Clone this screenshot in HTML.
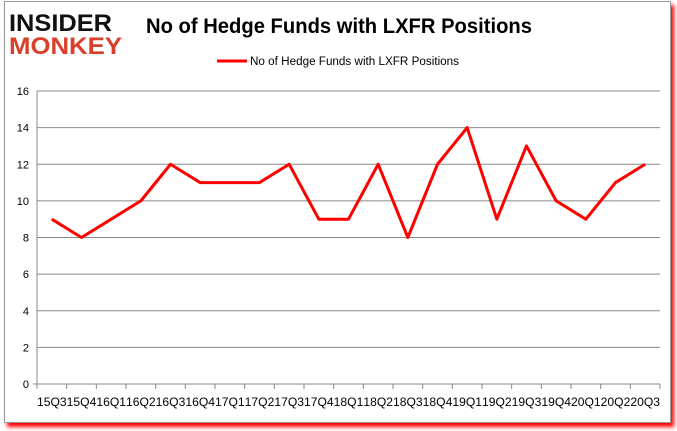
<!DOCTYPE html>
<html><head><meta charset="utf-8"><style>
body{margin:0;width:677px;height:431px;background:#fff;overflow:hidden;font-family:"Liberation Sans",sans-serif}
#frame{position:absolute;left:4px;top:1px;width:665px;height:420px;border:1px solid #999;box-shadow:3px 4px 4px #f00;background:#fff}
</style></head><body>
<div id="frame"></div>
<svg width="677" height="431" style="position:absolute;left:0;top:0">
<g font-family="Liberation Sans" font-weight="bold">
<text x="9" y="31" font-size="24" fill="#111" textLength="103" lengthAdjust="spacingAndGlyphs">INSIDER</text>
<text x="9" y="54" font-size="24" fill="#d9402b" textLength="113" lengthAdjust="spacingAndGlyphs">MONKEY</text>
</g>
<text x="146" y="33" font-size="21" font-weight="bold" fill="#000" textLength="386" lengthAdjust="spacingAndGlyphs">No of Hedge Funds with LXFR Positions</text>
<g>
<line x1="217" y1="61" x2="247" y2="61" stroke="#f00" stroke-width="3"/>
<text x="250" y="65" font-size="11.5" fill="#000" textLength="209" lengthAdjust="spacingAndGlyphs">No of Hedge Funds with LXFR Positions</text>
</g>
<g id="grid"></g><g id="axes"></g><g id="series"></g>
</svg>
<script>
const categories=["15Q3","15Q4","16Q1","16Q2","16Q3","16Q4","17Q1","17Q2","17Q3","17Q4","18Q1","18Q2","18Q3","18Q4","19Q1","19Q2","19Q3","19Q4","20Q1","20Q2","20Q3"];
const values=[9,8,9,10,12,11,11,11,12,9,9,12,8,12,14,9,13,10,9,11,12];
const yTicks=[0,2,4,6,8,10,12,14,16];
const NS="http://www.w3.org/2000/svg";
const L=37,R=660,T=91,B=384,yMax=16;
const bw=(R-L)/categories.length;
const x=i=>L+bw*(i+0.5);
const y=v=>B-(v/yMax)*(B-T);
function mk(tag,attrs,parent){const e=document.createElementNS(NS,tag);for(const k in attrs)e.setAttribute(k,attrs[k]);parent.appendChild(e);return e;}
const grid=document.getElementById('grid'),axes=document.getElementById('axes'),series=document.getElementById('series');
yTicks.forEach(t=>{
 if(t>0){const g=mk('line',{x1:L,x2:R,y1:y(t),y2:y(t),stroke:'#888','stroke-width':1},grid);
 
 }
 const lb=mk('text',{x:L-8,y:y(t)+4,'font-size':11,'text-anchor':'end',fill:'#000'},axes);
 lb.textContent=t;
 
 
});
const ax=mk('line',{x1:L,x2:L,y1:T,y2:B,stroke:'#888'},axes);


const xa=mk('line',{x1:L-4,x2:R,y1:B,y2:B,stroke:'#888'},axes);


for(let i=0;i<=categories.length;i++){const tk=mk('line',{x1:L+bw*i,x2:L+bw*i,y1:B,y2:B+5,stroke:'#888'},axes);
 
 }
categories.forEach((c,i)=>{const t=mk('text',{x:x(i)-bw/2,y:B+22,'font-size':11.5,fill:'#000',textLength:bw,lengthAdjust:'spacingAndGlyphs'},axes);
 t.textContent=c;
 
 });
const p=mk('polyline',{points:values.map((v,i)=>x(i)+','+y(v)).join(' '),fill:'none',stroke:'#f00','stroke-width':3,'stroke-linejoin':'round'},series);


</script>
</body></html>
